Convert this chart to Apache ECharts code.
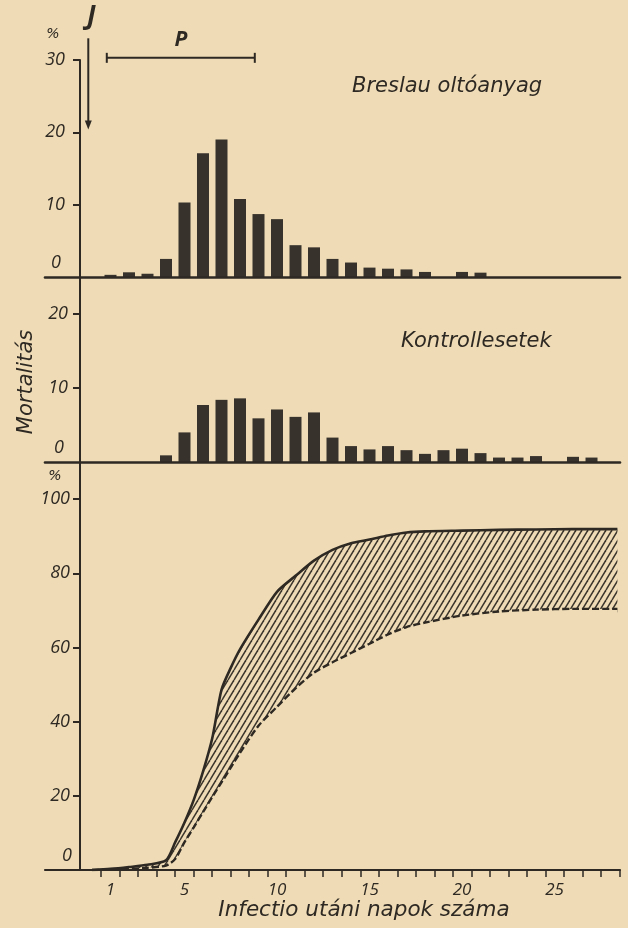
<!DOCTYPE html>
<html>
<head>
<meta charset="utf-8">
<script src="https://cdn.jsdelivr.net/npm/echarts@6/dist/echarts.min.js"></script>
<style>
  html, body { margin: 0; padding: 0; background: #efdcb6; }
  #chart { width: 628px; height: 928px; }
</style>
</head>
<body>
<div id="chart"></div>
<script>
// Daily mortality, % of cases dying on a given day after infection
const breslauDays  = [1, 2, 3, 4, 5, 6, 7, 8, 9, 10, 11, 12, 13, 14, 15, 16, 17, 18, 20, 21];
const breslauDaily = [0.3, 0.65, 0.45, 2.5, 10.3, 17.1, 19.0, 10.8, 8.7, 8.0, 4.4, 4.1, 2.5, 2.0, 1.3, 1.15, 1.05, 0.7, 0.7, 0.6];

const controlDays  = [4, 5, 6, 7, 8, 9, 10, 11, 12, 13, 14, 15, 16, 17, 18, 19, 20, 21, 22, 23, 24, 26, 27];
const controlDaily = [0.9, 4.0, 7.7, 8.4, 8.6, 5.9, 7.1, 6.1, 6.7, 3.3, 2.15, 1.7, 2.15, 1.6, 1.1, 1.6, 1.8, 1.2, 0.6, 0.6, 0.8, 0.7, 0.6];

// Cumulative mortality, %
const cumDays           = [0, 1, 2, 3, 4, 4.5, 5, 5.5, 6, 6.5, 7, 7.5, 8, 9, 10, 11, 12, 13, 14, 15, 16, 17, 18, 20, 22, 24, 26, 28.4];
const breslauCumulative = [0, 0.3, 0.8, 1.4, 2.6, 7.5, 12.8, 18.9, 26.5, 35.5, 48.6, 54.5, 59.5, 67.5, 75.0, 79.3, 83.4, 86.3, 88.1, 89.1, 90.2, 91.0, 91.3, 91.5, 91.7, 91.8, 91.9, 91.9];
const controlCumulative = [0, 0.1, 0.3, 0.6, 1.2, 3.0, 7.5, 11.5, 15.6, 19.7, 23.6, 27.6, 31.6, 38.9, 44.0, 49.0, 53.2, 56.0, 58.5, 61.0, 63.5, 65.5, 66.7, 68.6, 69.7, 70.2, 70.4, 70.4];

// Axis ticks and labels
const dayLabels    = [1, 5, 10, 15, 20, 25];
const dayTicks     = Array.from({ length: 29 }, (_, i) => i + 0.5);
const upperLabels  = [0, 10, 20, 30];
const middleLabels = [0, 10, 20];
const lowerLabels  = [0, 20, 40, 60, 80, 100];

// Annotations: inoculation day (J) and the period P
const injectionDay = -0.2;
const periodP = [0.8, 8.8];

const INK = '#2e2923';
const PAPER = '#efdcb6';
const NUM_FONT = 'Open Sans';
const TITLE_FONT = 'DejaVu Sans';

function hatchPattern() {
  const w = 6, h = 10;
  const c = document.createElement('canvas');
  c.width = w; c.height = h;
  const g = c.getContext('2d');
  g.strokeStyle = '#3a342c';
  g.lineWidth = 1.5;
  for (const dx of [-w, 0, w]) {
    g.beginPath(); g.moveTo(dx, h); g.lineTo(dx + w, 0); g.stroke();
  }
  return c;
}

const pairs = (xs, ys) => xs.map((x, i) => [x, ys[i]]);

const X_MIN = -2.54, X_MAX = 28.54;

function xAxisFor(grid, bottom) {
  return {
    type: 'value', gridIndex: grid, min: X_MIN, max: X_MAX, z: 6,
    splitLine: { show: false },
    axisLine: { show: true, lineStyle: { color: INK, width: bottom ? 2.2 : 2.6 } },
    axisTick: bottom
      ? { show: true, customValues: dayTicks, length: 7, inside: false, lineStyle: { color: INK, width: 1.5 } }
      : { show: false },
    axisLabel: bottom
      ? { show: true, customValues: dayLabels, margin: 12, color: INK, fontFamily: NUM_FONT, fontStyle: 'italic', fontSize: 17 }
      : { show: false }
  };
}

function yAxisFor(grid, max, labels, margin, zeroPad) {
  return {
    type: 'value', gridIndex: grid, min: 0, max: max, offset: -35, z: 6,
    splitLine: { show: false },
    axisLine: { show: true, onZero: false, lineStyle: { color: INK, width: 2 } },
    axisTick: { show: true, customValues: labels.filter(v => v !== 0), length: 7, lineStyle: { color: INK, width: 2 } },
    axisLabel: {
      show: true, customValues: labels, margin: margin,
      color: INK, fontFamily: NUM_FONT, fontStyle: 'italic', fontSize: 18,
      formatter: v => (v === 0 ? '{z|0}' : String(v)),
      rich: { z: { padding: [0, zeroPad, 28, 0], color: INK, fontFamily: NUM_FONT, fontStyle: 'italic', fontSize: 18 } }
    }
  };
}

const lastDay = cumDays[cumDays.length - 1];
const lastControl = controlCumulative[controlCumulative.length - 1];

const chart = echarts.init(document.getElementById('chart'), null, { renderer: 'canvas' });

chart.setOption({
  animation: false,
  backgroundColor: PAPER,
  grid: [
    { left: 45, right: 8, top: 60, height: 217 },
    { left: 45, right: 8, top: 277, height: 185 },
    { left: 45, right: 8, top: 462, height: 408 }
  ],
  xAxis: [xAxisFor(0, false), xAxisFor(1, false), xAxisFor(2, true)],
  yAxis: [
    yAxisFor(0, 30, upperLabels, 15, 4),
    yAxisFor(1, 25, middleLabels, 12, 4),
    yAxisFor(2, 110, lowerLabels, 10, -2)
  ],
  series: [
    {
      name: 'Breslau oltóanyag', type: 'bar', xAxisIndex: 0, yAxisIndex: 0,
      barWidth: 12, itemStyle: { color: '#37322c' },
      data: pairs(breslauDays, breslauDaily)
    },
    {
      name: 'Kontrollesetek', type: 'bar', xAxisIndex: 1, yAxisIndex: 1,
      barWidth: 12, itemStyle: { color: '#37322c' },
      data: pairs(controlDays, controlDaily)
    },
    // hatched area under the Breslau cumulative curve
    {
      name: 'Breslau terület', type: 'line', xAxisIndex: 2, yAxisIndex: 2,
      smooth: 0.25, symbol: 'none', silent: true,
      lineStyle: { width: 0, opacity: 0 },
      areaStyle: { color: { image: hatchPattern(), repeat: 'repeat' }, opacity: 1 },
      data: pairs(cumDays, breslauCumulative),
      z: 2
    },
    // control curve; its paper-coloured area leaves only the band between the curves hatched
    {
      name: 'Kontroll (kumulatív)', type: 'line', xAxisIndex: 2, yAxisIndex: 2,
      smooth: 0.25, symbol: 'none',
      lineStyle: { color: INK, width: 2.4, type: [7, 3] },
      areaStyle: { color: PAPER, opacity: 1 },
      data: pairs(cumDays, controlCumulative),
      // tidy the right-hand edge of the paper fill below the last point
      markLine: {
        silent: true, symbol: 'none', label: { show: false },
        lineStyle: { color: PAPER, width: 2.5, type: 'solid' },
        data: [[{ coord: [lastDay, 0] }, { coord: [lastDay, lastControl - 1.2] }]]
      },
      z: 3
    },
    {
      name: 'Breslau (kumulatív)', type: 'line', xAxisIndex: 2, yAxisIndex: 2,
      smooth: 0.25, symbol: 'none',
      lineStyle: { color: INK, width: 2.6 },
      data: pairs(cumDays, breslauCumulative),
      z: 4
    }
  ]
});

// Annotations placed through the top panel's coordinate system
const px = (d, v) => chart.convertToPixel({ gridIndex: 0 }, [d, v]);
const jTop = px(injectionDay, 33);
const jBot = px(injectionDay, 20.4);
const pL = px(periodP[0], 30.3);
const pR = px(periodP[1], 30.3);

const textStyle = (extra) => Object.assign({ fill: INK, fontFamily: TITLE_FONT, fontStyle: 'italic' }, extra);

chart.setOption({
  graphic: [
    { type: 'text', x: 53, y: 34, style: textStyle({ text: '%', fontSize: 14, align: 'center', verticalAlign: 'middle' }) },
    { type: 'text', x: 55, y: 476, style: textStyle({ text: '%', fontSize: 14, align: 'center', verticalAlign: 'middle' }) },
    { type: 'text', x: jTop[0] + 3, y: 17, style: textStyle({ text: 'J', fontFamily: NUM_FONT, fontSize: 26, fontWeight: 'bold', align: 'center', verticalAlign: 'middle' }) },
    { type: 'line', shape: { x1: jTop[0], y1: jTop[1], x2: jBot[0], y2: jBot[1] - 6 }, style: { stroke: INK, lineWidth: 2 } },
    { type: 'polygon', shape: { points: [[jBot[0] - 3.5, jBot[1] - 9], [jBot[0] + 3.5, jBot[1] - 9], [jBot[0], jBot[1]]] }, style: { fill: INK } },
    { type: 'text', x: (pL[0] + pR[0]) / 2, y: 40, style: textStyle({ text: 'P', fontFamily: NUM_FONT, fontSize: 21, fontWeight: 'bold', align: 'center', verticalAlign: 'middle' }) },
    { type: 'line', shape: { x1: pL[0], y1: pL[1], x2: pR[0], y2: pR[1] }, style: { stroke: INK, lineWidth: 2 } },
    { type: 'line', shape: { x1: pL[0], y1: pL[1] - 5, x2: pL[0], y2: pL[1] + 5 }, style: { stroke: INK, lineWidth: 2 } },
    { type: 'line', shape: { x1: pR[0], y1: pR[1] - 5, x2: pR[0], y2: pR[1] + 5 }, style: { stroke: INK, lineWidth: 2 } },
    { type: 'text', x: 352, y: 87, style: textStyle({ text: 'Breslau oltóanyag', fontSize: 21, align: 'left', verticalAlign: 'middle' }) },
    { type: 'text', x: 401, y: 342, style: textStyle({ text: 'Kontrollesetek', fontSize: 21, align: 'left', verticalAlign: 'middle' }) },
    { type: 'text', x: 27, y: 382, rotation: Math.PI / 2, style: textStyle({ text: 'Mortalitás', fontSize: 21, align: 'center', verticalAlign: 'middle' }) },
    { type: 'text', x: 364, y: 910, style: textStyle({ text: 'Infectio utáni napok száma', fontSize: 21.5, align: 'center', verticalAlign: 'middle' }) }
  ]
});
</script>
</body>
</html>
